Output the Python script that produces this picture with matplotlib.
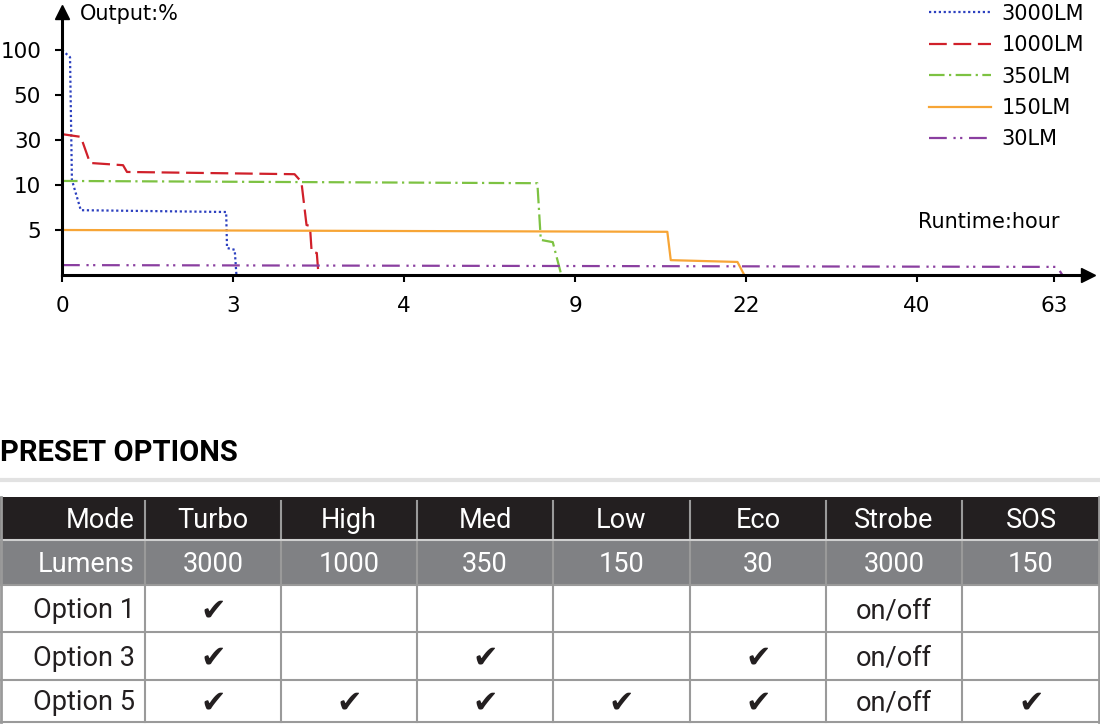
import matplotlib
matplotlib.use("Agg")
import matplotlib.pyplot as plt
from matplotlib.patches import Rectangle

# ---- chart data (axis positions: x ticks equally spaced, y ticks equally spaced)
x_ticks = [0, 1, 2, 3, 4, 5, 5.8]
x_labels = ["0", "3", "4", "9", "22", "40", "63"]
y_ticks = [1, 2, 3, 4, 5]
y_labels = ["5", "10", "30", "50", "100"]

x3000 = [0, 0.047, 0.058, 0.11, 0.96, 0.965, 1.01, 1.02]
y3000 = [5, 4.84, 2.11, 1.44, 1.40, 0.6, 0.56, 0]
x1000 = [0, 0.11, 0.164, 0.357, 0.38, 1.36, 1.40, 1.43, 1.45, 1.46, 1.49, 1.50]
y1000 = [3.13, 3.07, 2.49, 2.44, 2.29, 2.24, 2.07, 1.11, 1.09, 0.51, 0.49, 0]
x350 = [0, 2.78, 2.80, 2.87, 2.92]
y350 = [2.09, 2.04, 0.78, 0.73, 0]
x150 = [0, 3.54, 3.56, 3.95, 3.99]
y150 = [1.0, 0.96, 0.33, 0.29, 0]
x30 = [0, 5.82, 5.85]
y30 = [0.22, 0.18, 0]

series_names = ["3000LM", "1000LM", "350LM", "150LM", "30LM"]

# ---- table data
modes = ["Mode", "Turbo", "High", "Med", "Low", "Eco", "Strobe", "SOS"]
lumens = ["Lumens", "3000", "1000", "350", "150", "30", "3000", "150"]
option_rows = [
    ["Option 1", "✔", "", "", "", "", "on/off", ""],
    ["Option 3", "✔", "", "✔", "", "✔", "on/off", ""],
    ["Option 5", "✔", "✔", "✔", "✔", "✔", "on/off", "✔"],
]

W, H = 1100, 724
fig = plt.figure(figsize=(W / 100, H / 100), dpi=100)
fam = ["Liberation Sans Narrow", "Roboto", "DejaVu Sans"]

ax = fig.add_axes([62 / W, 1 - 275 / H, (W - 62) / W, 275 / H])
ax.set_xlim(0, (W - 62) / 171)
ax.set_ylim(0, 275 / 45)
colors = ["#2b3fbf", "#d0202a", "#7dc242", "#f7a536", "#8a3fa0"]
styles = [(0, (1, 1.2)), (0, (8, 3)), (0, (7, 2, 1, 2)), "-", (0, (8, 3, 1, 2, 1, 3))]
data = [(x3000, y3000), (x1000, y1000), (x350, y350), (x150, y150), (x30, y30)]
for (xs, ys), c, ls, n in zip(data, colors, styles, series_names):
    ax.plot(xs, ys, color=c, linestyle=ls, lw=1.6, label=n, clip_on=False)
for s in ["top", "right"]:
    ax.spines[s].set_visible(False)
ax.spines["left"].set_bounds(0, 5.85)
ax.spines["bottom"].set_bounds(0, 6.0)
ax.spines["left"].set_linewidth(2.2)
ax.spines["bottom"].set_linewidth(2.2)
ax.plot([6.0], [0], marker=">", color="black", markersize=10, clip_on=False)
ax.plot([0], [5.85], marker="^", color="black", markersize=10, clip_on=False)
ax.set_xticks(x_ticks)
ax.set_xticklabels(x_labels, fontsize=15.5)
ax.set_yticks(y_ticks)
ax.set_yticklabels(y_labels, fontsize=15.5)
ax.tick_params(axis="both", width=1.5, length=5, pad=10)
ax.patch.set_alpha(0)
ax.legend(loc="upper left", bbox_to_anchor=(848 / (W - 62), 1.055), frameon=False,
          fontsize=15, handlelength=3.0, handletextpad=0.5, labelspacing=0.55)

ov = fig.add_axes([0, 0, 1, 1])
ov.set_xlim(0, W)
ov.set_ylim(H, 0)
ov.axis("off")
ov.patch.set_alpha(0)
ov.text(80, 14, "Output:%", fontsize=15, va="center", ha="left")
ov.text(918, 222, "Runtime:hour", fontsize=15, va="center", ha="left")

ov.text(0, 453, "PRESET OPTIONS", fontsize=21, fontweight="bold", va="center", ha="left", family=fam)
ov.plot([0, 1100], [480, 480], color="#e2e2e2", lw=3)

col_edges = [0, 145, 281, 417, 553, 690, 826, 962, 1100]
row_edges = [497, 540, 585, 632, 680, 722]
rows = [modes, lumens] + option_rows
fills = ["#231f20", "#808184"] + ["white"] * 3
tcol = ["white", "white"] + ["#231f20"] * 3
for r, row in enumerate(rows):
    y0, y1 = row_edges[r], row_edges[r + 1]
    yc = (y0 + y1) / 2 + 2
    ov.add_patch(Rectangle((0, y0), W, y1 - y0, facecolor=fills[r], edgecolor="none"))
    for c, txt in enumerate(row):
        x0, x1 = col_edges[c], col_edges[c + 1]
        if c == 0:
            ov.text(x1 - 10, yc, txt, color=tcol[r], fontsize=19.5, ha="right", va="center", family=fam)
        else:
            if txt == "✔":
                ov.text((x0 + x1) / 2, yc, txt, color=tcol[r], fontsize=22, ha="center", va="center",
                        family=["DejaVu Sans"])
            else:
                ov.text((x0 + x1) / 2, yc, txt, color=tcol[r], fontsize=19.5, ha="center", va="center", family=fam)
for x in col_edges[1:-1]:
    ov.plot([x, x], [row_edges[0] + 4, row_edges[-1]], color="#9a9a9a", lw=1.5)
for y in row_edges[2:]:
    ov.plot([0, W], [y, y], color="#9a9a9a", lw=1.5)
ov.plot([0, W], [row_edges[1], row_edges[1]], color="#cfcfcf", lw=1.5)
ov.plot([1, 1], [row_edges[0], row_edges[-1]], color="#9a9a9a", lw=2)
ov.plot([W - 1, W - 1], [row_edges[0], row_edges[-1]], color="#9a9a9a", lw=2)

fig.savefig("out.png", dpi=100)
